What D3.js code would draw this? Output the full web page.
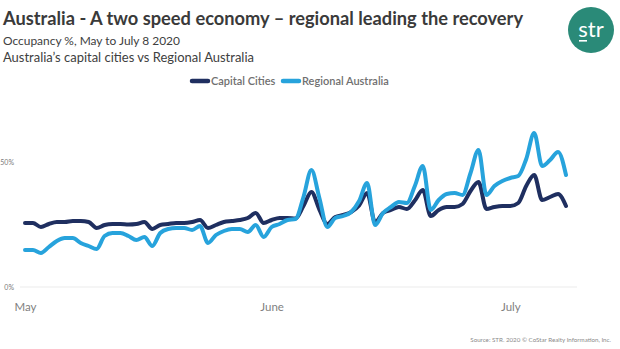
<!DOCTYPE html>
<html>
<head>
<meta charset="utf-8">
<script src="https://cdn.jsdelivr.net/npm/d3@7"></script>
<style>
  html, body { margin: 0; padding: 0; background: #fff; }
  svg { display: block; }
  text { font-family: Lato, "Open Sans", sans-serif; }
</style>
</head>
<body>
<svg id="chart" width="620" height="349"></svg>
<script>
// ---- data ----
const startDate = new Date(2020, 4, 1);   // May 1 2020
const endDate = new Date(2020, 6, 8);     // July 8 2020
const seriesNames = ["Capital Cities", "Regional Australia"];
const capitalCities = [
  25.6, 25.6, 24.0, 25.2, 26.0, 26.0, 26.4, 26.4, 26.0, 23.6,
  24.8, 25.2, 25.2, 25.0, 25.2, 26.0, 23.2, 24.8, 25.2, 25.6,
  25.6, 26.0, 26.8, 23.6, 24.8, 26.0, 26.4, 26.8, 27.6, 29.6,
  25.6, 26.8, 27.6, 27.6, 27.4, 32.4, 38.0, 31.0, 25.2, 28.0,
  28.8, 30.0, 32.6, 37.6, 26.0, 29.6, 30.8, 32.0, 31.2, 34.6,
  38.8, 28.4, 30.8, 32.0, 32.0, 33.2, 38.4, 42.0, 31.2, 32.0,
  32.4, 32.4, 33.6, 40.4, 44.8, 34.8, 36.0, 37.2, 32.4
];
const regionalAustralia = [
  14.8, 14.8, 13.6, 16.0, 18.4, 19.6, 19.6, 17.6, 16.4, 15.2,
  20.4, 21.6, 21.6, 20.4, 18.8, 20.0, 16.4, 21.6, 23.2, 23.6,
  23.6, 22.8, 24.4, 17.6, 20.8, 22.4, 23.2, 23.2, 22.0, 24.8,
  20.0, 24.0, 25.2, 26.8, 27.2, 36.0, 46.8, 35.6, 24.0, 27.6,
  28.4, 30.0, 34.4, 41.6, 24.8, 29.6, 32.0, 34.0, 33.6, 40.4,
  48.4, 30.8, 34.8, 37.2, 37.6, 36.8, 45.6, 54.8, 36.8, 40.4,
  42.4, 43.6, 44.4, 51.2, 61.6, 48.4, 50.8, 54.0, 44.8
];
const yTicks = [0, 50];
const monthLabels = ["May", "June", "July"];
const colors = ["#1f2f60", "#27a3dc"];

const dates = d3.timeDay.range(startDate, d3.timeDay.offset(endDate, 1));

const svg = d3.select("#chart");

// ---- scales ----
const x = d3.scaleTime().domain([startDate, endDate]).range([25, 566]);
const y = d3.scaleLinear().domain([0, 50]).range([287, 162]);

// ---- titles ----
function fitText(sel, target) {
  const node = sel.node();
  const fs = parseFloat(sel.attr("font-size"));
  const w = node.getComputedTextLength();
  sel.attr("font-size", (fs * target / w).toFixed(2));
}
const title = svg.append("text").attr("x", 3).attr("y", 25)
  .attr("font-size", 20).attr("font-weight", "bold").attr("fill", "#3a3a3a")
  .text("Australia - A two speed economy \u2013 regional leading the recovery");
fitText(title, 520);
const sub1 = svg.append("text").attr("x", 3).attr("y", 45)
  .attr("font-size", 13).attr("fill", "#404040")
  .text("Occupancy %, May to July 8 2020");
fitText(sub1, 177);
const sub2 = svg.append("text").attr("x", 3).attr("y", 62)
  .attr("font-size", 13).attr("fill", "#404040")
  .text("Australia\u2019s capital cities vs Regional Australia");
fitText(sub2, 251);

// ---- logo ----
const logo = svg.append("g").attr("transform", "translate(591,30)");
logo.append("circle").attr("r", 23).attr("fill", "#2a8a78");
logo.append("text").attr("x", 0).attr("y", 7).attr("text-anchor", "middle")
  .attr("font-size", 22).attr("fill", "#fff").attr("font-family", "Lato, sans-serif")
  .text("str");
logo.append("rect").attr("x", -12).attr("y", 10).attr("width", 8).attr("height", 1.6).attr("fill", "#fff");

// ---- legend ----
const legend = svg.append("g").attr("transform", "translate(0,81)");
const legendX = [191, 282];
seriesNames.forEach((name, i) => {
  const g = legend.append("g").attr("transform", `translate(${legendX[i]},0)`);
  g.append("line").attr("x1", 1).attr("x2", 17).attr("y1", 0).attr("y2", 0)
    .attr("stroke", colors[i]).attr("stroke-width", 4.5).attr("stroke-linecap", "round");
  g.append("text").attr("x", 20).attr("y", 4).attr("font-size", 11)
    .attr("font-weight", 600).attr("fill", "#707070").text(name);
});

// ---- gridline ----
svg.append("line").attr("x1", 20).attr("x2", 577)
  .attr("y1", y(0)).attr("y2", y(0)).attr("stroke", "#ebebeb").attr("stroke-width", 1);

// ---- y axis ----
const yAxis = d3.axisLeft(y).tickValues(yTicks).tickFormat(d => d + "%").tickSize(0).tickPadding(0);
const yg = svg.append("g").attr("transform", "translate(14,0)").call(yAxis);
yg.select(".domain").remove();
yg.selectAll("text").attr("font-size", 7).attr("fill", "#7a7a7a").attr("font-family", "Lato, sans-serif");

// ---- x axis ----
const monthTicks = d3.timeMonth.range(startDate, endDate);
const xAxis = d3.axisBottom(x).tickValues(monthTicks)
  .tickFormat((d, i) => monthLabels[i]).tickSize(0).tickPadding(0);
const xg = svg.append("g").attr("transform", "translate(0,303)").call(xAxis);
xg.select(".domain").remove();
xg.selectAll("text").attr("font-size", 11.5).attr("fill", "#7f7f7f")
  .attr("font-family", "Lato, sans-serif").attr("dy", "0.71em");

// ---- lines ----
const line = d3.line().x((d, i) => x(dates[i])).y(d => y(d)).curve(d3.curveMonotoneX);
[capitalCities, regionalAustralia].forEach((vals, i) => {
  svg.append("path").datum(vals).attr("d", line)
    .attr("fill", "none").attr("stroke", colors[i]).attr("stroke-width", 4)
    .attr("stroke-linejoin", "round").attr("stroke-linecap", "round");
});

// ---- source ----
svg.append("text").attr("x", 611).attr("y", 342).attr("text-anchor", "end")
  .attr("font-size", 6.2).attr("fill", "#8a8a8a")
  .text("Source: STR. 2020 \u00a9 CoStar Realty Information, Inc.");
</script>
</body>
</html>
